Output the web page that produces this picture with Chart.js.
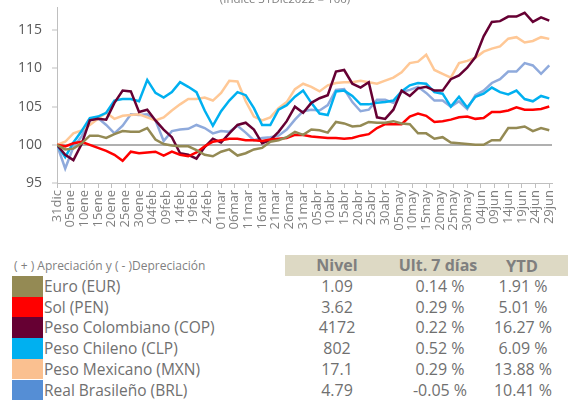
<!DOCTYPE html>
<html lang="es">
<head>
<meta charset="UTF-8">
<title>Monedas</title>
<script src="https://cdn.jsdelivr.net/npm/chart.js"></script>
<style>
  body { margin: 0; width: 568px; height: 400px; overflow: hidden; background: #fff; position: relative; font-family: 'Open Sans', sans-serif; }
  #titulo { position: absolute; top: -9px; left: 0; width: 570px; text-align: center; font-size: 11.5px; color: #7f7f7f; z-index: 2; }
  #caja { position: absolute; left: 0; top: -11px; width: 568px; height: 251px; }
  .abs { position: absolute; white-space: nowrap; }
</style>
</head>
<body>
<div id="titulo">(Índice 31Dic2022 = 100)</div>
<div id="caja"><canvas id="grafico"></canvas></div>
<div id="tabla"></div>

<script>
// dias desde el 31 dic 2022
const dias = [0, 3, 6, 9, 12, 15, 18, 21, 24, 27, 30, 33, 36, 39, 42, 45, 48, 51, 54, 57, 60,
  63, 66, 69, 72, 75, 78, 81, 84, 87, 90, 93, 96, 99, 102, 105, 108, 111, 114, 117, 120,
  123, 126, 129, 132, 135, 138, 141, 144, 147, 150, 153, 156, 159, 162, 165, 168, 171, 174, 177, 180];

const etiquetas = ['31dic', '05ene', '10ene', '15ene', '20ene', '25ene', '30ene', '04feb', '09feb', '14feb',
  '19feb', '24feb', '01mar', '06mar', '11mar', '16mar', '21mar', '26mar', '31mar', '05abr', '10abr',
  '15abr', '20abr', '25abr', '30abr', '05may', '10may', '15may', '20may', '25may', '30may', '04jun',
  '09jun', '14jun', '19jun', '24jun', '29jun'];

const eur = [100, 99.4, 99.5, 100.2, 101.2, 101.2, 100.9, 101.4, 101.8, 101.7, 101.7, 102.2, 100.7, 100.1, 99.9,
  99.8, 99.8, 99.3, 98.7, 98.5, 99.1, 99.4, 98.6, 98.9, 99.4, 99.6, 100.4, 100.6, 101.0, 101.7, 101.3,
  102.0, 101.9, 101.6, 103.0, 102.8, 102.4, 102.5, 103.0, 102.9, 102.9, 103.1, 102.8, 102.7, 101.5,
  101.5, 100.8, 101.0, 100.3, 100.2, 100.1, 100.0, 100.0, 100.6, 100.6, 102.2, 102.2, 102.4, 101.8, 102.2, 101.91];

const pen = [100, 99.8, 100.2, 100.4, 100.0, 99.6, 99.2, 98.7, 97.9, 99.1, 98.9, 99.0, 99.1, 98.6, 99.1,
  98.7, 98.5, 99.0, 99.8, 100.4, 100.6, 100.8, 100.8, 100.6, 100.6, 100.5, 100.7, 100.8, 100.9, 101.3, 101.3,
  101.1, 101.0, 100.9, 100.9, 100.8, 100.9, 101.2, 101.4, 102.2, 102.7, 102.7, 102.7, 103.7, 104.1,
  103.8, 103.0, 103.1, 103.3, 103.6, 103.7, 103.4, 103.5, 104.3, 104.3, 104.5, 104.9, 104.6, 104.6, 104.7, 105.01];

const cop = [100, 98.7, 98.0, 100.1, 103.2, 103.4, 103.3, 105.5, 107.1, 107.0, 104.3, 104.6, 103.2, 102.0, 101.0,
  98.9, 98.7, 98.2, 99.7, 100.8, 100.3, 101.5, 102.6, 102.9, 102.0, 100.2, 100.6, 101.7, 103.1, 105.0, 104.2,
  105.5, 106.1, 106.5, 109.6, 109.8, 108.0, 107.5, 108.2, 103.6, 103.4, 104.6, 107.1, 106.4, 107.4,
  107.6, 107.1, 107.1, 108.6, 109.1, 110.1, 111.5, 114.2, 116.1, 116.2, 116.8, 116.8, 117.3, 116.1, 116.7, 116.27];

const clp = [100, 98.4, 100.3, 101.8, 103.5, 103.7, 104.2, 105.8, 106.0, 106.0, 105.7, 108.5, 106.8, 106.2, 106.9,
  108.2, 107.6, 106.9, 104.5, 102.5, 104.4, 105.8, 106.9, 106.5, 104.8, 102.6, 102.6, 104.6, 105.2, 106.3, 107.1,
  105.5, 104.1, 103.9, 107.0, 107.1, 106.4, 105.3, 105.3, 105.5, 105.6, 105.8, 107.0, 107.8, 108.1,
  108.0, 106.9, 106.7, 105.0, 106.3, 104.9, 106.3, 106.7, 107.5, 106.9, 106.6, 107.1, 106.0, 105.7, 106.4, 106.09];

const mxn = [100, 100.4, 101.5, 101.9, 102.6, 103.4, 104.2, 103.4, 103.8, 103.9, 104.0, 103.6, 103.2, 103.6, 104.5,
  105.3, 106.0, 106.0, 106.2, 105.8, 106.8, 108.4, 108.3, 105.7, 103.7, 103.2, 103.6, 104.8, 105.6, 107.3, 108.0,
  107.6, 107.0, 107.8, 108.1, 108.2, 108.2, 108.4, 108.2, 108.0, 108.4, 108.8, 109.5, 110.7, 110.9,
  111.8, 109.8, 109.3, 108.8, 110.7, 111.0, 111.4, 112.2, 112.6, 112.9, 113.9, 114.1, 113.4, 113.6, 114.1, 113.88];

const brl = [100, 96.9, 99.7, 101.1, 103.2, 103.5, 102.6, 101.5, 102.5, 104.0, 103.9, 104.0, 103.2, 100.5, 101.8,
  102.0, 102.1, 102.6, 102.2, 101.5, 101.8, 101.7, 102.5, 101.6, 100.6, 100.9, 101.0, 101.2, 102.0, 103.3, 104.4,
  104.6, 104.5, 105.2, 107.2, 107.3, 105.6, 104.4, 104.6, 105.9, 105.9, 105.5, 106.9, 107.2, 107.6,
  106.8, 105.8, 105.8, 105.0, 105.7, 104.7, 106.5, 107.1, 108.1, 108.6, 109.6, 109.6, 110.7, 110.4, 109.3, 110.41];

// tabla inferior
const monedas = ['Euro (EUR)', 'Sol (PEN)', 'Peso Colombiano (COP)', 'Peso Chileno (CLP)', 'Peso Mexicano (MXN)', 'Real Brasileño (BRL)'];
const nivel = ['1.09', '3.62', '4172', '802', '17.1', '4.79'];
const ult7 = ['0.14 %', '0.29 %', '0.22 %', '0.52 %', '0.29 %', '-0.05 %'];
const ytd = ['1.91 %', '5.01 %', '16.27 %', '6.09 %', '13.88 %', '10.41 %'];
const coloresCaja = ['#948A54', '#FF0000', '#660033', '#00B0F0', '#FAC090', '#558ED5'];
const coloresLinea = ['#948A54', '#FF0000', '#660033', '#00B0F0', '#FFC896', '#8FAADC'];
const series = [eur, pen, cop, clp, mxn, brl];

const fuente = "'Open Sans', sans-serif";

new Chart(document.getElementById('grafico'), {
    type: 'line',
    data: {
        datasets: series.map((s, i) => ({
            label: monedas[i],
            data: s.map((v, j) => ({ x: dias[j], y: v })),
            borderColor: coloresLinea[i],
            borderWidth: 2.5,
            pointRadius: 0,
            fill: false,
            tension: 0
        }))
    },
    options: {
        responsive: true,
        maintainAspectRatio: false,
        animation: false,
        layout: { padding: { top: 0, right: 16, left: 0, bottom: 0 } },
        plugins: { legend: { display: false }, tooltip: { enabled: false } },
        scales: {
            x: {
                type: 'linear',
                min: 0,
                max: 181,
                afterBuildTicks: a => { a.ticks = etiquetas.map((_, i) => ({ value: i * 5 })); },
                afterFit: a => { a.height = 57; },
                ticks: {
                    autoSkip: false, minRotation: 90, maxRotation: 90, padding: 2,
                    color: '#7f7f7f', font: { family: fuente, size: 13 },
                    callback: v => etiquetas[Math.round(v / 5)]
                },
                grid: { drawOnChartArea: false, tickLength: 5, color: '#bfbfbf' },
                border: { color: '#bfbfbf' }
            },
            y: {
                min: 95,
                max: 118,
                afterBuildTicks: a => { a.ticks = a.ticks.filter(t => t.value % 5 === 0); },
                afterFit: a => { a.width = 57; },
                ticks: { stepSize: 5, padding: 10, color: '#595959', font: { family: fuente, size: 14 } },
                grid: {
                    color: c => (c.tick && c.tick.value === 100) ? '#b0b0b0' : 'rgba(0,0,0,0)',
                    lineWidth: 2,
                    tickColor: '#bfbfbf',
                    tickWidth: 1,
                    tickLength: 5
                },
                border: { color: '#bfbfbf' }
            }
        }
    }
});

// tabla construida con divs
const tabla = document.getElementById('tabla');
function celda(txt, x, y, w, h, estilo) {
    const d = document.createElement('div');
    d.className = 'abs';
    d.textContent = txt;
    d.style.cssText += `left:${x}px;top:${y}px;width:${w}px;height:${h}px;line-height:${h}px;` + (estilo || '');
    tabla.appendChild(d);
    return d;
}
const gris = 'color:#707070;font-size:16px;';
celda('', 285, 255, 283, 21, 'background:#DDD9C4;');
celda('( + ) Apreciación y ( - )Depreciación', 14, 255, 260, 22, 'color:#7f7f7f;font-size:12px;');
celda('Nivel', 287, 255, 100, 21, 'color:#7f7f7f;font-size:16px;font-weight:bold;text-align:center;');
celda('Ult. 7 días', 388, 255, 100, 21, 'color:#7f7f7f;font-size:16px;font-weight:bold;text-align:center;');
celda('YTD', 472, 255, 100, 21, 'color:#7f7f7f;font-size:16.5px;font-weight:bold;text-align:center;');
monedas.forEach((m, i) => {
    const y = 276 + i * 20.7;
    celda('', 12, y, 31, 20.7, 'background:' + coloresCaja[i] + ';');
    celda(m, 44, y, 230, 20.7, 'color:#707070;font-size:15.5px;');
    celda(nivel[i], 287, y, 100, 20.7, gris + 'text-align:center;');
    celda(ult7[i], 390, y, 100, 20.7, gris + 'text-align:center;');
    celda(ytd[i], 473, y, 100, 20.7, gris + 'text-align:center;');
});
</script>
</body>
</html>
